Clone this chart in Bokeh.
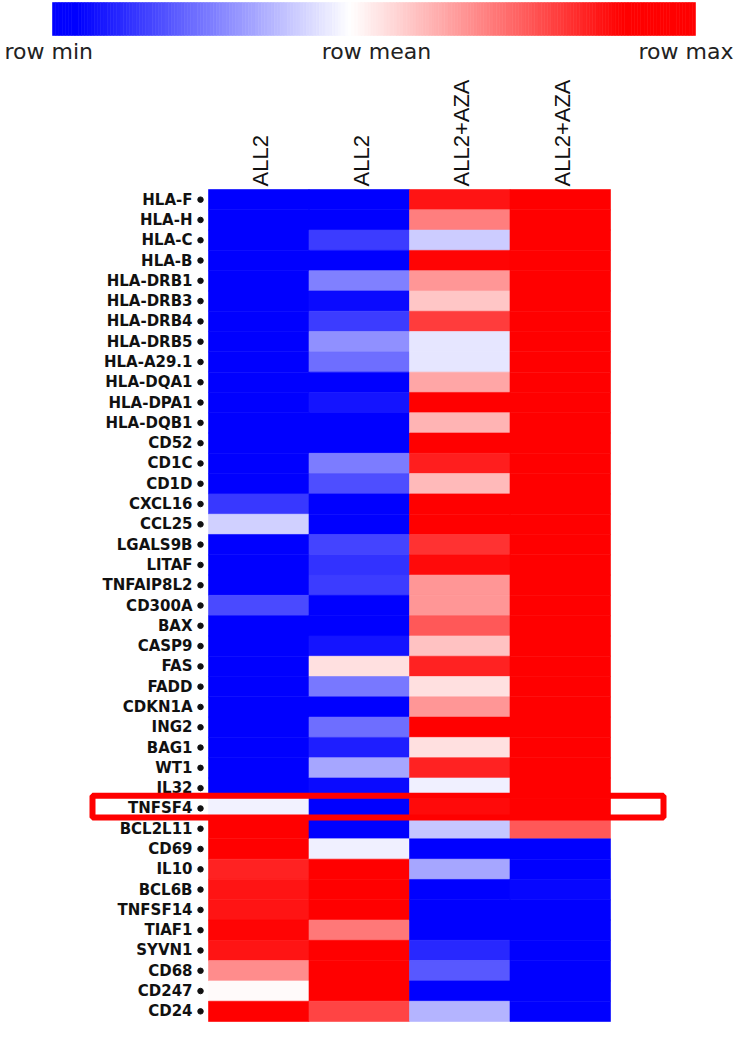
import numpy as np
from bokeh.plotting import figure
from bokeh.models import ColumnDataSource, Range1d
from bokeh.transform import linear_cmap
from bokeh.core.properties import value
from bokeh.embed import file_html
from bokeh.resources import INLINE

# ---------------- data (row-normalised: -1 = row min, 0 = row mean, 1 = row max)
genes = ["HLA-F", "HLA-H", "HLA-C", "HLA-B", "HLA-DRB1", "HLA-DRB3", "HLA-DRB4",
         "HLA-DRB5", "HLA-A29.1", "HLA-DQA1", "HLA-DPA1", "HLA-DQB1", "CD52", "CD1C",
         "CD1D", "CXCL16", "CCL25", "LGALS9B", "LITAF", "TNFAIP8L2", "CD300A", "BAX",
         "CASP9", "FAS", "FADD", "CDKN1A", "ING2", "BAG1", "WT1", "IL32", "TNFSF4",
         "BCL2L11", "CD69", "IL10", "BCL6B", "TNFSF14", "TIAF1", "SYVN1", "CD68",
         "CD247", "CD24"]

all2_1 = [-1, -1, -1, -1, -1, -1, -1, -1, -1, -1, -1, -1, -1, -1,
          -1, -0.78, -0.18, -1, -1, -1, -0.71, -1,
          -1, -1, -1, -1, -1, -1, -1, -1, -0.05,
          1, 1, 0.86, 0.92, 0.92, 0.98, 0.92, 0.45,
          0.02, 1]
all2_2 = [-1, -1, -0.76, -1, -0.5, -0.96, -0.76,
          -0.43, -0.57, -1, -0.92, -1, -1, -0.51,
          -0.69, -1, -1, -0.73, -0.8, -0.76, -1, -1,
          -0.92, 0.12, -0.53, -1, -0.57, -0.88, -0.35, -0.96, -1,
          -1, -0.06, 1, 1, 1, 0.53, 1, 1,
          1, 0.73]
aza_1 = [0.92, 0.5, -0.2, 0.98, 0.41, 0.22, 0.76,
         -0.1, -0.1, 0.35, 1, 0.29, 1, 0.88,
         0.27, 1, 1, 0.8, 0.96, 0.41, 0.41, 0.65,
         0.24, 0.86, 0.12, 0.41, 1, 0.12, 0.86, -0.06, 0.96,
         -0.22, -1, -0.35, -1, -1, -1, -0.84, -0.65,
         -1, -0.29]
aza_2 = [1, 1, 1, 1, 1, 1, 1, 1, 1, 1, 1, 1, 1, 1,
         1, 1, 1, 1, 1, 1, 1, 1, 1, 1, 1, 1, 1, 1, 1, 1, 1,
         0.65, -1, -1, -0.97, -1, -1, -1, -1,
         -1, -1]
conditions = ["ALL2", "ALL2", "ALL2+AZA", "ALL2+AZA"]
scale_labels = ["row min", "row mean", "row max"]
highlight_gene = "TNFSF4"

# ---------------- layout (pixels within the figure)
W, H = 734, 1022
HM_LEFT, HM_RIGHT = 208, 610
HM_TOP, HM_BOTTOM = 189, 1021
n_rows, n_cols = len(genes), len(conditions)
col_px = (HM_RIGHT - HM_LEFT) / n_cols
row_px = (HM_BOTTOM - HM_TOP) / n_rows

x_start = -HM_LEFT / col_px
x_end = x_start + W / col_px
y_end = (n_rows - 0.5) + HM_TOP / row_px
y_start = y_end - H / row_px


def X(px):
    return x_start + px / col_px


def Y(py):
    return y_end - py / row_px


# blue - white - red palette
palette = []
for k in range(256):
    t = -1 + 2 * k / 255
    if t < 0:
        v = int(round(255 * (1 + t)))
        palette.append("#%02x%02x%02x" % (v, v, 255))
    else:
        v = int(round(255 * (1 - t)))
        palette.append("#%02x%02x%02x" % (255, v, v))
cmap = linear_cmap("z", palette, -1, 1)

p = figure(width=W, height=H, x_range=Range1d(x_start, x_end),
           y_range=Range1d(y_start, y_end), x_axis_type=None, y_axis_type=None,
           toolbar_location=None, output_backend="svg", min_border=0,
           outline_line_color=None, background_fill_color="white",
           border_fill_color="white")
p.grid.visible = False

# ---------------- heatmap cells
columns = [all2_1, all2_2, aza_1, aza_2]
xs, ys, zs = [], [], []
for ci, col in enumerate(columns):
    for ri, zval in enumerate(col):
        xs.append(ci + 0.5)
        ys.append(n_rows - 1 - ri)
        zs.append(zval)
cells = ColumnDataSource(dict(x=xs, y=ys, z=zs))
p.rect(x="x", y="y", width=1, height=1, source=cells, fill_color=cmap,
       line_color=cmap, line_width=0.6)

# ---------------- row labels and dots
row_y = [n_rows - 1 - i for i in range(n_rows)]
lab_src = ColumnDataSource(dict(x=[X(192)] * n_rows, y=row_y, t=genes))
p.text(x="x", y="y", text="t", source=lab_src, text_align="right",
       text_baseline="middle", text_font=value("DejaVu Sans"),
       text_font_style="bold", text_font_size="15px", text_color="#111111")
p.scatter(x=[X(200)] * n_rows, y=row_y, marker="circle", size=5.5,
          color="#111111")

# ---------------- column headers
hdr = ColumnDataSource(dict(x=[i + 0.5 + 0.02 for i in range(n_cols)],
                            y=[Y(186)] * n_cols, t=conditions))
p.text(x="x", y="y", text="t", source=hdr, angle=np.pi / 2,
       text_align="left", text_baseline="middle",
       text_font=value("Liberation Sans"), text_font_size="22px",
       text_color="#111111")

# ---------------- highlight box
hi = n_rows - 1 - genes.index(highlight_gene)
p.quad(left=[X(92)], right=[X(663)], top=[hi + 0.62], bottom=[hi - 0.45],
       fill_color=None, line_color="#ff0000", line_width=6)

# ---------------- colour scale
N = 200
edges = np.linspace(X(52), X(695), N + 1)
cb = ColumnDataSource(dict(left=edges[:-1], right=edges[1:],
                           z=np.linspace(-1.08, 1.25, N)))
p.quad(left="left", right="right", top=Y(2), bottom=Y(35), source=cb,
       fill_color=cmap, line_color=cmap, line_width=0.6)
lab_x = [X(4), X(376), X(733)]
for lx, txt, al in zip(lab_x, scale_labels, ["left", "center", "right"]):
    p.text(x=[lx], y=[Y(51)], text=[txt], text_align=al,
           text_baseline="middle", text_font=value("DejaVu Sans"),
           text_font_size="22px", text_color="#222222")

open("out.html", "w").write(file_html(p, INLINE))
